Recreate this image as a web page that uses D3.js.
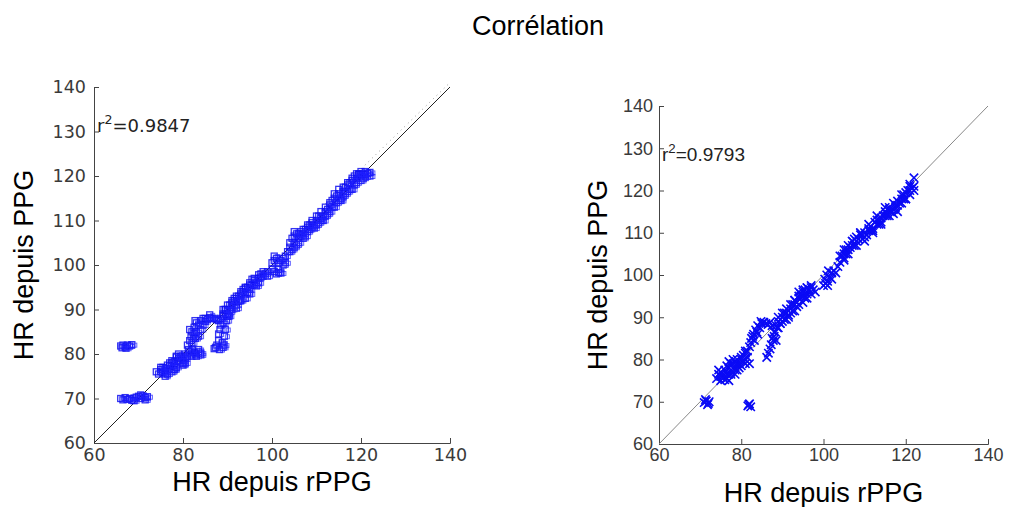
<!DOCTYPE html>
<html><head><meta charset="utf-8">
<script src="https://cdn.jsdelivr.net/npm/d3@7"></script>
<style>body{margin:0;background:#fff}</style>
</head><body>
<svg id="c" width="1016" height="507"></svg>
<script>
const title = "Corrélation";
const ticks = [60, 80, 100, 120, 140];
const yTicks = [60, 70, 80, 90, 100, 110, 120, 130, 140];
const xLabel = "HR depuis rPPG";
const yLabel = "HR depuis PPG";
const r2Left = "0.9847";
const r2Right = "0.9793";

const leftX = [66,66.5,67,67.5,68,68.5,66.3,67.2,
 66,66.5,67,67.5,68,68.5,69,69.5,70,70.5,71,71.5,72,70.5,71.5,69,
 74.5,75,75,75.5,76,76,76.5,77,77,77.5,78,78,78.5,79,79,79.5,80,80,80.5,80.5,78.5,77.5,
 81.5,82,82.5,83,83.5,84,82,83.5,
 81,81.5,81.8,82,82.5,82.3,83,83.5,83,84,84.5,82.7,81.5,
 85,85.5,86,86.5,87,87.5,
 87,87.3,87.6,88,88,88.3,88.5,89,88.8,89.3,89.5,89.8,89,88.2,
 89,89.5,90,90,90.5,91,91,91.5,92,92,92.5,93,93,93.5,94,94,94.5,95,95,95.5,96,96.5,97,97.5,98,98.5,
 100,100.5,101,101.5,102,100,100.5,101,101.5,102,102.5,103,102.5,103,103.5,
 104,104,104.5,105,105,105.5,106,106.5,107,107.5,108,108.5,109,109.5,110,110.5,111,111.5,112,112.5,113,113.5,114,114.5,115,115.5,116,116.5,117,117.5,118,118.5,119,119.5,120,120.5,121,121.5,122,
 90,91,92,93,94,95,96,97,98,99,89.5,90.5,91.5,92.5,93.5,94.5,95.5,96.5,97.5,
 104,105,106,107,108,109,110,111,112,113,114,115,116,117,118,119,120,121,
 104.5,105.5,106.5,107.5,108.5,109.5,110.5,111.5,112.5,113.5,114.5,115.5,116.5,117.5,118.5,119.5,120.5,
 74,75.5,76.5,77.5,78.5,79.5,80.5,81,76,78,80,82,83,84,
 81.2,82,82.8,83.5,84,82.5,
 88.5,89,89.5,90,88,89.2,90.3,
 75,76,77,78,79,80,84.5,85,86,
 89,90,91,92,93,94,95,96,97,99,100.5,101.5,
 105,106,107,108,109,110,111,112,113,114,115,116,117,118,119,120,121,122];
const leftY = [81.8,82,81.6,82,81.8,82.1,81.4,81.3,
 70,69.7,70.2,69.8,70,69.6,70.1,70.3,70.5,70,70.6,70.2,70.4,70.8,69.7,69.5,
 75.5,76,76.5,75.8,76.2,76.8,75.5,76.5,77.3,76,77.5,78.3,77,78.5,79,78,78.5,79.3,79,80,79.3,78,
 80.5,80,80.3,80,80.5,80.2,81,81,
 82,83,84,85,86,83.5,87,86.5,85,87.5,88,87.5,85.5,
 88,87.8,88.2,88,88,87.7,
 81.2,81.5,82,83,84.5,85.5,86.5,87,82.5,84,85.5,87.5,81.5,81,
 88.5,89,90,88.8,91,90,91.5,92,91,92.5,93,92.3,93.5,94,93.5,94.8,95,94.5,96,95.5,96.5,96,97,97.3,97.5,98,
 99,98.5,98,98.3,98.2,100.5,101,101.5,100.5,101,100,100.5,101.5,102,103,
 104,105,106,105,106.5,107,106,107.5,107,108,108.5,108,109.5,109,110,109.5,110.5,111,112,112.5,113.5,114.5,115,114,116,115,116.5,117.5,118,118.5,119,120,119.5,120.3,120,120.5,120.3,120.6,120.8,
 91,90.5,93,92,95,93.5,97,96,98.5,98.5,90,89.5,92.5,91.8,94.5,93.8,96.8,95.3,98,
 103,104,107,106,109,108.5,111,110,113,112,116,114.5,117.5,116.5,119.5,118.5,121,119.8,
 103.5,104.5,106.5,106.5,109,108.3,111,110,111.5,113,115.5,114.5,116,117,118,120.5,119.5,
 76,77,77.5,78.5,79.5,79.5,78,79.5,75,76.5,77.5,79.5,79.5,79.8,
 81,82.5,83.5,84,85.5,84.5,
 88,89,90,89,87.5,82,88.5,
 77,75.5,78,76.5,80,77.8,86.5,87.3,88.8,
 90,88.5,92,90.3,94,92.5,95.5,95.5,97.8,97.5,102,99,
 107.5,105,108,107.5,110,109,112,111,114,113,117,115.5,118.5,117,120.5,119,121,120];

const rightX = [71,71.5,72,71.3,71.8,72.2,
 81.6,82,82.3,81.8,
 74,74.5,75,75,75.5,76,76,76.5,77,77,77.5,77.5,78,78,78.5,79,79,79.5,80,80,80.5,81,81,81.5,82,78.5,76.5,
 81.5,82,82.3,82.5,83,83.2,83.5,84,84.5,84,
 85,85.5,86,86.5,87,87.5,
 86.2,86.6,87,87.3,87.8,88,88.3,88.8,87.5,88.5,
 88.5,89,89.5,90,90.5,91,91.5,92,92.5,93,93.5,94,94.5,94,95,95.5,96,96,96.5,97,97.5,93,95,
 100,100.5,101,100.3,100.8,101.2,101.5,102,102.5,103,103.5,
 104,104.5,105,105,105.5,106,106.5,107,107.5,108,108.5,109,110,110.5,111,111.5,112,112.5,113,113.5,114,114.5,115,115.5,116,116.5,117,117.5,118,118.5,119,119.5,120,120.5,121,121.5,122,122,121,
 89,90,91,92,93,94,95,96,97,98,89.5,90.5,91.5,92.5,93.5,94.5,95.5,
 104,105,106,107,108,109,110,111,112,113,114,115,116,117,118,119,120,121,
 105.5,107.5,109.5,111.5,113.5,115.5,117.5,119.5,
 74.5,75.5,76.5,77.5,78.5,79.5,80.5,77,79,81,
 82.8,83.8,84.8,
 75,76,77,78,79,80,81,88,89,90,91,92,93,94,95,96,97,101,102,
 105,106,107,108,109,110,111,112,113,114,115,116,117,118,119,120,121,122];
const rightY = [69.8,70.2,69.6,70.5,69.3,70,
 69,69.5,68.8,69.3,
 75.5,76.5,75,77,76,75.2,77.5,76.5,75,78,79,77,80,78,79.5,80,77.5,79,78.5,80.5,79.5,80,81.5,80.5,79,76.5,78.5,
 82,83,84,85,86,84.5,87,88,87.5,86,
 88.5,88.8,88.5,88.3,88.8,88,
 80.5,81.5,82.5,83.5,84.5,85.5,86.5,87.5,85,84.5,
 88,89,88.5,90,89.5,91,90.5,92,91.5,93,93.5,94.5,95.5,96,95,96.5,95.5,97,96.5,97,96.5,94,93.5,
 97.5,98,97.5,99,100,101,99.5,100.5,101,100.5,102,
 103,104.5,105,103.5,106,107,106.5,108,108.5,109,108.5,109.5,110,109.5,110.5,111.5,111,112.5,112,113,113.5,114,115,114.5,115.5,115,115.5,116,116.5,117,118,119,119.5,120,119,120.5,121,123,121.5,
 90,89,92,91,94,93,96.5,94.5,97.5,96,88.5,91,90,93,92.5,95,94.5,
 104.5,104,106,107,108,110,109,111,110.5,113,112.5,114,116,114.5,117.5,117,118,120,
 105,107,108.5,110.5,112,114,116.5,118,
 77.5,76.5,75.5,76.5,77.5,78,81,79.5,78.5,79,
 85.5,86.5,89,
 76,76,76.5,79,79,80,82,86.5,87.5,91,89.5,93,91.5,95,96,97,95.5,98.5,99,
 106,105,108,107,110,108,112,110,114,112,116,114,117,115,119,118,121,120];

const svg = d3.select("#c");

svg.append("text").attr("x", 538).attr("y", 35).attr("text-anchor", "middle")
  .attr("font-family", "Liberation Sans, Arial").attr("font-size", 27).attr("fill", "#000").text(title);

function panel(cfg) {
  const x = d3.scaleLinear().domain([60, 140]).range([cfg.x0, cfg.x1]);
  const y = d3.scaleLinear().domain([60, 140]).range([cfg.y0, cfg.y1]);
  const g = svg.append("g");
  const ax = g.append("g").attr("transform", `translate(0,${cfg.y0})`)
    .call(d3.axisBottom(x).tickValues(ticks).tickSizeInner(-5).tickSizeOuter(-5).tickPadding(cfg.xpad));
  const ay = g.append("g").attr("transform", `translate(${cfg.x0},0)`)
    .call(d3.axisLeft(y).tickValues(yTicks).tickSizeInner(-5).tickSizeOuter(-5).tickPadding(cfg.ypad));
  [ax, ay].forEach(a => {
    a.selectAll("path,line").attr("stroke", "#444");
    a.selectAll("text").attr("font-family", cfg.font).attr("font-size", cfg.fs).attr("fill", "#3a3a3a");
  });
  g.append("line").attr("x1", x(60)).attr("y1", y(60)).attr("x2", x(140)).attr("y2", y(140))
    .attr("stroke", cfg.lineColor).attr("stroke-width", 1);
  if (cfg.dotted) {
    g.append("line").attr("x1", x(112)).attr("y1", y(113.8)).attr("x2", x(140)).attr("y2", y(141))
      .attr("stroke", "#999").attr("stroke-width", 1).attr("stroke-dasharray", "1,4");
  }
  const pts = cfg.xs.map((v, i) => [v, cfg.ys[i]]);
  if (cfg.marker === "square") {
    g.append("g").selectAll("rect").data(pts).join("rect")
      .attr("x", d => x(d[0]) - 3).attr("y", d => y(d[1]) - 3)
      .attr("width", 6).attr("height", 6)
      .attr("fill", "none").attr("stroke", "#1010f0").attr("stroke-width", 1.3).attr("opacity", 0.85);
    g.append("g").selectAll("rect").data(pts).join("rect")
      .attr("x", d => x(d[0]) + 1).attr("y", d => y(d[1]) - 1.5)
      .attr("width", 4).attr("height", 4)
      .attr("fill", "none").attr("stroke", "#2020ff").attr("stroke-width", 1).attr("opacity", 0.7);
  } else {
    const s = 4.2;
    g.append("g").selectAll("path").data(pts).join("path")
      .attr("d", d => { const cx = x(d[0]), cy = y(d[1]);
        return `M${cx-s},${cy-s}L${cx+s},${cy+s}M${cx-s},${cy+s}L${cx+s},${cy-s}`; })
      .attr("stroke", "#0a0af5").attr("stroke-width", 1.6).attr("fill", "none");
  }
  const t = g.append("text").attr("x", cfg.x0 + 3).attr("y", cfg.r2y)
    .attr("font-family", cfg.font).attr("font-size", cfg.r2fs).attr("fill", "#222");
  t.append("tspan").text("r");
  t.append("tspan").attr("dy", -8).attr("font-size", cfg.r2fs * 0.7).text("2");
  t.append("tspan").attr("dy", 8).text("=" + cfg.r2);
  g.append("text").attr("x", (cfg.x0 + cfg.x1) / 2).attr("y", cfg.xlabY).attr("text-anchor", "middle")
    .attr("font-family", "Liberation Sans, Arial").attr("font-size", 27).attr("fill", "#000").text(xLabel);
  g.append("text").attr("transform", `translate(${cfg.ylabX},${(cfg.y0 + cfg.y1) / 2}) rotate(-90)`)
    .attr("text-anchor", "middle")
    .attr("font-family", "Liberation Sans, Arial").attr("font-size", 27).attr("fill", "#000").text(yLabel);
}

panel({x0: 94, x1: 450, y0: 443, y1: 87, xs: leftX, ys: leftY, marker: "square",
  font: "DejaVu Sans", fs: 17.5, r2fs: 18, xpad: 6, ypad: 8, lineColor: "#222", dotted: true,
  r2: r2Left, r2y: 132, xlabY: 491, ylabX: 33});
panel({x0: 659, x1: 988, y0: 444, y1: 106, xs: rightX, ys: rightY, marker: "x",
  font: "Liberation Sans, Arial", fs: 18, r2fs: 19, xpad: 4, ypad: 6, lineColor: "#888", dotted: false,
  r2: r2Right, r2y: 161, xlabY: 502, ylabX: 607});
</script>
</body></html>
